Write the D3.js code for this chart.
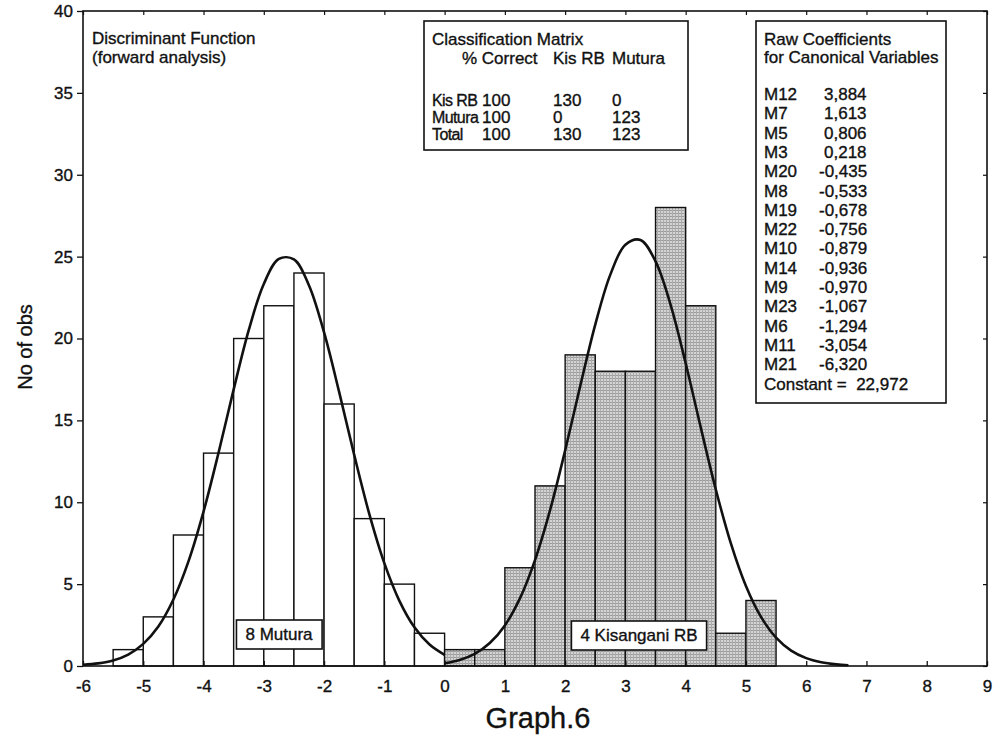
<!DOCTYPE html>
<html>
<head>
<meta charset="utf-8">
<script src="https://cdn.jsdelivr.net/npm/d3@7"></script>
<style>
  html, body { margin: 0; padding: 0; background: #fff; }
  svg { display: block; }
  text { font-family: "Liberation Sans", Arial, sans-serif; fill: #111; stroke: #111; stroke-width: 0.35px; }
</style>
</head>
<body>
<svg id="chart" width="1006" height="742"></svg>
<script>
// ---------------- data ----------------
const binWidth = 0.5;
const muturaBinStarts = [-5.5, -5, -4.5, -4, -3.5, -3, -2.5, -2, -1.5, -1, -0.5];
const muturaCounts    = [1, 3, 8, 13, 20, 22, 24, 16, 9, 5, 2];
const kisBinStarts    = [0, 0.5, 1, 1.5, 2, 2.5, 3, 3.5, 4, 4.5, 5];
const kisCounts       = [1, 1, 6, 11, 19, 18, 18, 28, 22, 2, 4];

// fitted normal curves
const muturaCurveX = [-6, -5.75, -5.5, -5.25, -5, -4.75, -4.5, -4.25, -4, -3.75, -3.5, -3.25, -3, -2.75, -2.5, -2.25, -2, -1.75, -1.5, -1.25, -1, -0.75, -0.5, -0.25, 0];
const muturaCurveY = [0.07, 0.16, 0.34, 0.70, 1.35, 2.41, 4.06, 6.39, 9.43, 13.04, 16.89, 20.51, 23.33, 24.86, 24.83, 23.24, 20.37, 16.74, 12.89, 9.29, 6.28, 3.98, 2.36, 1.31, 0.68];
const kisCurveX = [0, 0.25, 0.5, 0.75, 1, 1.25, 1.5, 1.75, 2, 2.25, 2.5, 2.75, 3, 3.25, 3.5, 3.75, 4, 4.25, 4.5, 4.75, 5, 5.25, 5.5, 5.75, 6, 6.25, 6.5, 6.7];
const kisCurveY = [0.17, 0.37, 0.74, 1.40, 2.48, 4.13, 6.47, 9.52, 13.16, 17.09, 20.85, 23.90, 25.73, 26.02, 24.71, 22.06, 18.49, 14.57, 10.78, 7.49, 4.89, 3.00, 1.73, 0.94, 0.48, 0.23, 0.10, 0.05];

const xTicks = [-6, -5, -4, -3, -2, -1, 0, 1, 2, 3, 4, 5, 6, 7, 8, 9];
const yTicks = [0, 5, 10, 15, 20, 25, 30, 35, 40];

const groupLabels = ["8 Mutura", "4 Kisangani RB"];
const titleLines = ["Discriminant Function", "(forward analysis)"];
const xTitle = "Graph.6";
const yTitle = "No of obs";

const classTitle = "Classification Matrix";
const classHeader = ["% Correct", "Kis RB", "Mutura"];
const classRows = ["Kis RB", "Mutura", "Total"];
const classPct = ["100", "100", "100"];
const classKis = ["130", "0", "130"];
const classMut = ["0", "123", "123"];

const coefTitle = ["Raw Coefficients", "for Canonical Variables"];
const coefNames = ["M12", "M7", "M5", "M3", "M20", "M8", "M19", "M22", "M10", "M14", "M9", "M23", "M6", "M11", "M21"];
const coefValues = ["3,884", "1,613", "0,806", "0,218", "-0,435", "-0,533", "-0,678", "-0,756", "-0,879", "-0,936", "-0,970", "-1,067", "-1,294", "-3,054", "-6,320"];
const constantLabel = "Constant =  22,972";

// ---------------- layout ----------------
const L = 83, R = 987, T = 11, B = 666;
const svg = d3.select("#chart");

const x = d3.scaleLinear().domain([-6, 9]).range([L, R]);
const y = d3.scaleLinear().domain([0, 40]).range([B, T]);

// pattern for shaded bars
const defs = svg.append("defs");
const pat = defs.append("pattern").attr("id", "stipple")
  .attr("patternUnits", "userSpaceOnUse").attr("width", 3).attr("height", 3);
pat.append("rect").attr("width", 3).attr("height", 3).attr("fill", "#d4d4d4");
pat.append("rect").attr("x", 0).attr("y", 0).attr("width", 3).attr("height", 1).attr("fill", "#9c9c9c");
pat.append("rect").attr("x", 0).attr("y", 0).attr("width", 1).attr("height", 3).attr("fill", "#ababab");

// bars
const g = svg.append("g");
g.selectAll("rect.mut").data(muturaBinStarts).join("rect")
  .attr("class", "mut")
  .attr("x", d => x(d))
  .attr("width", d => x(d + binWidth) - x(d))
  .attr("y", (d, i) => y(muturaCounts[i]))
  .attr("height", (d, i) => y(0) - y(muturaCounts[i]))
  .attr("fill", "#fff").attr("stroke", "#111").attr("stroke-width", 1.4);

g.selectAll("rect.kis").data(kisBinStarts).join("rect")
  .attr("class", "kis")
  .attr("x", d => x(d))
  .attr("width", d => x(d + binWidth) - x(d))
  .attr("y", (d, i) => y(kisCounts[i]))
  .attr("height", (d, i) => y(0) - y(kisCounts[i]))
  .attr("fill", "url(#stipple)").attr("stroke", "#111").attr("stroke-width", 1.4);

// curves
const line = d3.line().x(d => x(d[0])).y(d => y(d[1])).curve(d3.curveCatmullRom.alpha(0.5));
svg.append("path").datum(muturaCurveX.map((v, i) => [v, muturaCurveY[i]]))
  .attr("d", line).attr("fill", "none").attr("stroke", "#111").attr("stroke-width", 2.6);
svg.append("path").datum(kisCurveX.map((v, i) => [v, kisCurveY[i]]))
  .attr("d", line).attr("fill", "none").attr("stroke", "#111").attr("stroke-width", 2.6);

// axes
const fs = 17;
const fmt = d => String(d);
const yAxis = d3.axisLeft(y).tickValues(yTicks).tickSize(6).tickPadding(4).tickFormat(fmt);
const yg = svg.append("g").attr("transform", `translate(${L},0)`).call(yAxis);
yg.select(".domain").remove();
yg.selectAll("text").attr("font-size", fs).attr("fill", "#111")
  .style("font-family", '"Liberation Sans", Arial, sans-serif');
yg.selectAll("line").attr("stroke", "#111").attr("stroke-width", 1.3);

const xAxis = d3.axisBottom(x).tickValues(xTicks).tickSize(-5).tickPadding(14).tickFormat(fmt);
const xg = svg.append("g").attr("transform", `translate(0,${B})`).call(xAxis);
xg.select(".domain").remove();
xg.selectAll("text").attr("font-size", fs).attr("fill", "#111")
  .style("font-family", '"Liberation Sans", Arial, sans-serif');
xg.selectAll("line").attr("stroke", "#111").attr("stroke-width", 1.3);

// top and right inner ticks
const xTop = d3.axisTop(x).tickValues(xTicks).tickSize(-4).tickFormat("");
const tg = svg.append("g").attr("transform", `translate(0,${T})`).call(xTop);
tg.select(".domain").remove();
tg.selectAll("line").attr("stroke", "#111").attr("stroke-width", 1.2);
const yRight = d3.axisRight(y).tickValues(yTicks).tickSize(-4).tickFormat("");
const rg = svg.append("g").attr("transform", `translate(${R},0)`).call(yRight);
rg.select(".domain").remove();
rg.selectAll("line").attr("stroke", "#111").attr("stroke-width", 1.2);

// frame
svg.append("rect").attr("x", L).attr("y", T).attr("width", R - L).attr("height", B - T)
  .attr("fill", "none").attr("stroke", "#111").attr("stroke-width", 1.6);

// axis titles
svg.append("text").attr("x", 538).attr("y", 728).attr("text-anchor", "middle")
  .attr("font-size", 29).text(xTitle);
svg.append("text").attr("transform", "translate(32,347) rotate(-90)").attr("text-anchor", "middle")
  .attr("font-size", 20).text(yTitle);

// top-left title
svg.append("g").selectAll("text").data(titleLines).join("text")
  .attr("x", 92).attr("y", (d, i) => 44 + i * 19)
  .attr("font-size", fs).text(d => d);

// group label boxes
function labelBox(cx, cy, txt) {
  const t = svg.append("text").attr("x", cx).attr("y", cy + 6).attr("text-anchor", "middle")
    .attr("font-size", fs).text(txt);
  const bb = t.node().getBBox();
  svg.insert("rect", function () { return t.node(); })
    .attr("x", bb.x - 9).attr("y", cy - 14).attr("width", bb.width + 18).attr("height", 29)
    .attr("fill", "#fff").attr("stroke", "#111").attr("stroke-width", 1.6);
}
labelBox(279, 634, groupLabels[0]);
labelBox(639, 635, groupLabels[1]);

// classification matrix box
const cb = svg.append("g");
cb.append("rect").attr("x", 424).attr("y", 21).attr("width", 264).attr("height", 129)
  .attr("fill", "#fff").attr("stroke", "#111").attr("stroke-width", 1.6);
cb.append("text").attr("x", 432).attr("y", 45).attr("font-size", fs).text(classTitle);
const colX = [462, 553, 612];
cb.selectAll("text.hdr").data(classHeader).join("text").attr("class", "hdr")
  .attr("x", (d, i) => colX[i]).attr("y", 64).attr("font-size", fs).text(d => d);
const rowColX = [432, 482, 553, 612];
classRows.forEach((r, i) => {
  const vals = [r, classPct[i], classKis[i], classMut[i]];
  cb.selectAll(null).data(vals).join("text")
    .attr("x", (d, j) => rowColX[j]).attr("y", 106 + i * 17)
    .attr("font-size", (d, j) => j === 0 ? 16 : fs)
    .attr("letter-spacing", (d, j) => j === 0 ? -0.6 : 0)
    .text(d => d);
});

// coefficient box
const kb = svg.append("g");
kb.append("rect").attr("x", 756).attr("y", 21).attr("width", 190).attr("height", 382)
  .attr("fill", "#fff").attr("stroke", "#111").attr("stroke-width", 1.6);
kb.selectAll("text.ct").data(coefTitle).join("text").attr("class", "ct")
  .attr("x", 764).attr("y", (d, i) => 45 + i * 18).attr("font-size", fs).text(d => d);
const rowY = i => 100 + i * 19.3;
kb.selectAll("text.cn").data(coefNames).join("text").attr("class", "cn")
  .attr("x", 764).attr("y", (d, i) => rowY(i)).attr("font-size", fs).text(d => d);
kb.selectAll("text.cv").data(coefValues).join("text").attr("class", "cv")
  .attr("x", d => d.startsWith("-") ? 819 : 824).attr("y", (d, i) => rowY(i)).attr("font-size", fs).text(d => d);
kb.append("text").attr("x", 764).attr("y", rowY(coefNames.length)).attr("font-size", fs)
  .style("white-space", "pre").text(constantLabel);
</script>
</body>
</html>
